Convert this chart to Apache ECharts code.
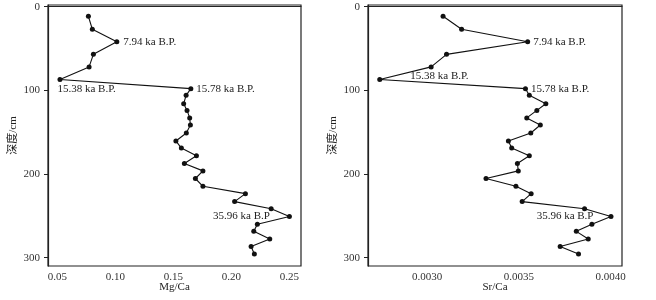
<!DOCTYPE html>
<html>
<head>
<meta charset="utf-8">
<script src="https://cdn.jsdelivr.net/npm/echarts@6/dist/echarts.min.js"></script>
<style>
  html, body { margin: 0; padding: 0; background: #fff; }
  #chart { width: 656px; height: 300px; }
</style>
</head>
<body>
<div id="chart"></div>
<script>
// 深度 (cm)
const depths = [11.5, 27, 42, 57, 72, 87, 98, 106, 116, 124, 133, 141.5, 151, 160.5, 169,
  178.3, 187.5, 196.3, 205.4, 214.7, 223.5, 233, 241.6, 250.8, 260, 268.6, 277.7, 286.6, 295.6];
const mgCa = [0.0768, 0.0802, 0.1013, 0.0811, 0.0774, 0.0523, 0.1651, 0.1610, 0.1589, 0.1618,
  0.1641, 0.1647, 0.1612, 0.1522, 0.1569, 0.1699, 0.1595, 0.1755, 0.1690, 0.1755,
  0.2121, 0.2028, 0.2343, 0.2500, 0.2224, 0.2193, 0.2331, 0.2170, 0.2198];
const srCa = [0.003087, 0.003188, 0.003548, 0.003106, 0.003022, 0.002742, 0.003536, 0.003557, 0.003647, 0.003598,
  0.003543, 0.003617, 0.003565, 0.003443, 0.003461, 0.003557, 0.003492, 0.003497, 0.003321, 0.003484,
  0.003567, 0.003518, 0.003858, 0.004002, 0.003898, 0.003813, 0.003878, 0.003725, 0.003825];
// 年龄标注: 点序号 -> 文字
const ageIdx = [2, 5, 6, 23];
const ageText = ['7.94 ka B.P.', '15.38 ka B.P.', '15.78 ka B.P.', '35.96 ka B.P'];
const depthTicks = [0, 100, 200, 300];
const mgTicks = [0.05, 0.10, 0.15, 0.20, 0.25];
const srTicks = [0.0030, 0.0035, 0.0040];

const font = '"Liberation Serif", "Noto Sans CJK SC", serif';
const txt = '#222';

// 标注位置 (左图, 右图)
const labelPos = [
  [{ position: 'right', distance: 4 }, { position: 'right', distance: 3 }],
  [{ position: 'right', distance: 4, offset: [-9, 10] }, { position: 'right', distance: 4, offset: [24, -3] }],
  [{ position: 'right', distance: 3 }, { position: 'right', distance: 3 }],
  [{ position: 'left', distance: 17 }, { position: 'left', distance: 15 }]
];

function buildData(vals, panel) {
  return vals.map((v, i) => {
    let k = ageIdx.indexOf(i);
    let item = { value: [v, depths[i]] };
    if (k >= 0) {
      item.label = Object.assign({
        show: true,
        formatter: ageText[k],
        color: txt,
        fontFamily: font,
        fontSize: 11
      }, labelPos[k][panel]);
    }
    return item;
  });
}

function xAxis(grid, name, min, max, ticks, digits) {
  return {
    type: 'value', gridIndex: grid, min: min, max: max,
    name: name, nameLocation: 'middle', nameGap: 16, nameMoveOverlap: false,
    nameTextStyle: { color: txt, fontFamily: font, fontSize: 11 },
    axisLine: { show: true, lineStyle: { color: '#222', width: 1.2 } },
    axisTick: { show: false },
    splitLine: { show: false },
    axisLabel: {
      customValues: ticks, margin: 6, color: '#333', fontFamily: font, fontSize: 11,
      formatter: v => v.toFixed(digits)
    }
  };
}

function yAxis(grid) {
  return {
    type: 'value', gridIndex: grid, inverse: true, min: -2, max: 310,
    name: '深度/cm', nameLocation: 'middle', nameGap: 29, nameMoveOverlap: false,
    nameTextStyle: { color: txt, fontFamily: font, fontSize: 11 },
    axisLine: { show: true, lineStyle: { color: '#222', width: 1.2 } },
    axisTick: { show: true, customValues: depthTicks, length: 4, lineStyle: { color: '#222' } },
    splitLine: { show: false },
    axisLabel: { customValues: depthTicks, margin: 8, color: '#333', fontFamily: font, fontSize: 11 }
  };
}

function lineSeries(vals, panel) {
  return {
    type: 'line', xAxisIndex: panel, yAxisIndex: panel,
    data: buildData(vals, panel),
    symbol: 'circle', symbolSize: 5,
    itemStyle: { color: '#111' },
    lineStyle: { color: '#111', width: 1.1 },
    label: { show: false },
    animation: false
  };
}

const chart = echarts.init(document.getElementById('chart'));
chart.setOption({
  backgroundColor: '#fff',
  animation: false,
  grid: [
    { left: 48, right: 355, top: 5, bottom: 34, show: true, borderColor: '#222', borderWidth: 1.2, outerBoundsMode: 'none' },
    { left: 368, right: 34, top: 5, bottom: 34, show: true, borderColor: '#222', borderWidth: 1.2, outerBoundsMode: 'none' }
  ],
  xAxis: [
    xAxis(0, 'Mg/Ca', 0.042, 0.260, mgTicks, 2),
    xAxis(1, 'Sr/Ca', 0.002678, 0.004062, srTicks, 4)
  ],
  yAxis: [yAxis(0), yAxis(1)],
  series: [lineSeries(mgCa, 0), lineSeries(srCa, 1)]
});
</script>
</body>
</html>
